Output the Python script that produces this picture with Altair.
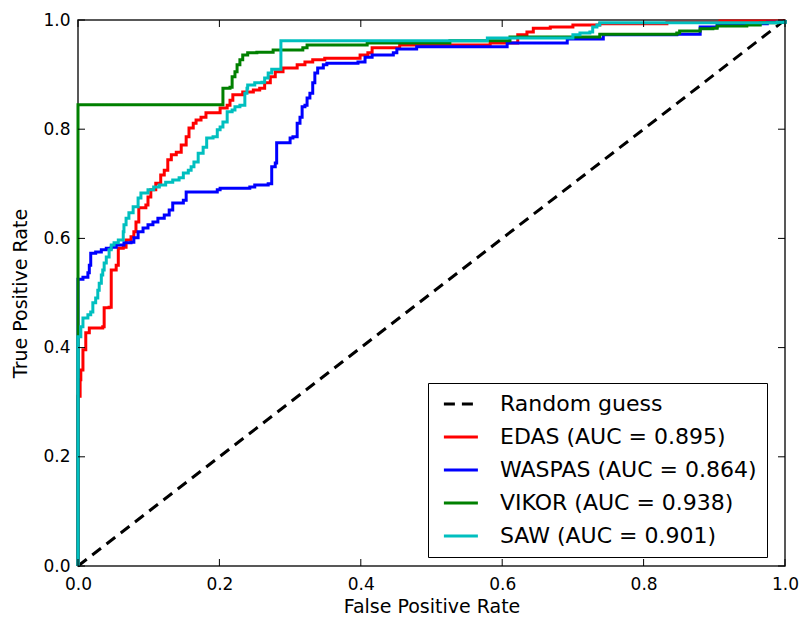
import altair as alt
import pandas as pd

# ---- data ----
names = ["Random guess", "EDAS (AUC = 0.895)", "WASPAS (AUC = 0.864)",
         "VIKOR (AUC = 0.938)", "SAW (AUC = 0.901)"]
colors = ["#000000", "#ff0000", "#0000ff", "#008000", "#00bfbf"]
ticks = [0.0, 0.2, 0.4, 0.6, 0.8, 1.0]

random_fpr = [0.0, 1.0]
random_tpr = [0.0, 1.0]

edas_fpr = [0, 0, .003, .004, .007, .011, .016, .035, .037, .044, .047, .054, .057, .064, .068,
            .075, .079, .082, .086, .096, .099, .103, .110, .117, .122, .127, .132, .139, .146,
            .153, .157, .163, .167, .174, .181, .201, .211, .215, .219, .233, .248, .257, .264,
            .272, .279, .290, .310, .321, .332, .349, .399, .410, .416, .455, .583, .611, .622,
            .635, .644, .668, .700, .738, .833, .908, 1.0]
edas_tpr = [0, .311, .341, .359, .396, .427, .436, .438, .473, .474, .542, .551, .582, .584, .597,
            .603, .612, .630, .656, .661, .676, .689, .701, .716, .725, .744, .753, .758, .771,
            .786, .802, .811, .817, .822, .830, .839, .844, .853, .863, .868, .872, .875, .885,
            .896, .905, .912, .918, .923, .927, .930, .936, .940, .949, .954, .958, .958, .973,
            .978, .985, .987, .991, .993, .996, .998, 1.0]

waspas_fpr = [0, 0, .007, .014, .016, .018, .025, .033, .040, .047, .054, .065, .075, .079, .085,
              .092, .099, .106, .113, .122, .129, .134, .149, .153, .197, .201, .243, .250, .269,
              .274, .279, .281, .296, .300, .304, .310, .314, .317, .321, .324, .328, .332, .335,
              .339, .347, .352, .396, .406, .416, .446, .451, .479, .579, .607, .692, .743, .847,
              .880, .904, .975, 1.0]
waspas_tpr = [0, .525, .529, .537, .551, .573, .575, .579, .582, .584, .588, .592, .593, .601, .612,
              .619, .625, .630, .637, .643, .652, .665, .670, .685, .689, .692, .694, .698, .700,
              .731, .738, .775, .775, .784, .786, .811, .822, .841, .844, .857, .866, .885, .903,
              .912, .918, .921, .923, .932, .936, .940, .947, .951, .951, .958, .965, .973, .974,
              .987, .993, .996, 1.0]

vikor_fpr = [0, 0, .205, .205, .215, .218, .222, .225, .229, .233, .240, .253, .276, .318, .324,
             .409, .526, .611, .738, .847, .851, .880, .898, .904, .946, .965, .989, 1.0]
vikor_tpr = [0, .845, .846, .875, .877, .896, .905, .918, .927, .936, .940, .941, .945, .949, .954,
             .958, .962, .969, .974, .976, .980, .984, .985, .989, .991, .995, .996, 1.0]

saw_fpr = [0, 0, .004, .007, .014, .018, .021, .025, .028, .030, .033, .035, .037, .040, .044,
           .047, .051, .057, .064, .065, .068, .072, .078, .085, .089, .099, .107, .115, .124,
           .134, .143, .149, .156, .160, .164, .170, .177, .182, .191, .197, .201, .205, .211,
           .218, .222, .229, .236, .239, .240, .250, .260, .264, .269, .274, .287, .287, .579,
           .696, .700, .710, .724, .728, .734, .738, .989, 1.0]
saw_tpr = [0, .420, .438, .454, .460, .465, .482, .491, .505, .518, .533, .542, .555, .566, .579,
           .588, .592, .597, .612, .625, .637, .647, .658, .674, .683, .689, .694, .698, .703,
           .707, .711, .720, .725, .731, .740, .756, .767, .784, .786, .799, .804, .813, .832,
           .835, .841, .844, .866, .875, .881, .885, .886, .894, .903, .910, .912, .962, .967,
           .967, .973, .976, .978, .987, .991, .995, .996, 1.0]

# ---- tables ----
def table(name, xs, ys):
    return pd.DataFrame({"series": name, "fpr": xs, "tpr": ys, "i": list(range(len(xs)))})

df_random = table(names[0], random_fpr, random_tpr)
df_roc = pd.concat([
    table(names[1], edas_fpr, edas_tpr),
    table(names[2], waspas_fpr, waspas_tpr),
    table(names[3], vikor_fpr, vikor_tpr),
    table(names[4], saw_fpr, saw_tpr),
], ignore_index=True)
df_ticks = pd.DataFrame({"t": ticks})

W, H = 707, 546
FONT = "DejaVu Sans"
TL = 7

xscale = alt.Scale(domain=[0, 1], nice=False, zero=False)
yscale = alt.Scale(domain=[0, 1], nice=False, zero=False)

legend = alt.Legend(title=None, orient="none", legendX=350, legendY=363,
                    strokeColor="#000000", fillColor="white", padding=10,
                    symbolType="M-0.6,0H3.4", symbolStrokeWidth=3, symbolSize=289,
                    labelFontSize=22, labelFont=FONT, labelColor="#000000", labelLimit=500,
                    labelOffset=40, rowPadding=11, cornerRadius=0)
color_enc = alt.Color("series:N", scale=alt.Scale(domain=names, range=colors), legend=legend)
dash_enc = alt.StrokeDash("series:N",
                          scale=alt.Scale(domain=names, range=[[11, 7], [1, 0], [1, 0], [1, 0], [1, 0]]),
                          legend=legend)

x_axis = alt.Axis(title="False Positive Rate", values=ticks, format=".1f", ticks=False, tickSize=0,
                  domain=False, grid=False, labelFontSize=17, titleFontSize=19, labelPadding=10,
                  titlePadding=5, labelFont=FONT, titleFont=FONT, titleFontWeight="normal",
                  labelColor="#000000", titleColor="#000000", labelFlush=False)
y_axis = alt.Axis(title="True Positive Rate", values=ticks, format=".1f", ticks=False, tickSize=0,
                  domain=False, grid=False, labelFontSize=17, titleFontSize=19, labelPadding=8,
                  titlePadding=12, labelFont=FONT, titleFont=FONT, titleFontWeight="normal",
                  labelColor="#000000", titleColor="#000000", labelFlush=False)

random_line = alt.Chart(df_random).mark_line(strokeWidth=3).encode(
    x=alt.X("fpr:Q", scale=xscale, axis=x_axis),
    y=alt.Y("tpr:Q", scale=yscale, axis=y_axis),
    color=color_enc, strokeDash=dash_enc, order="i:Q")

roc_lines = alt.Chart(df_roc).mark_line(strokeWidth=3, interpolate="step-after").encode(
    x=alt.X("fpr:Q", scale=xscale, axis=x_axis),
    y=alt.Y("tpr:Q", scale=yscale, axis=y_axis),
    color=color_enc, strokeDash=dash_enc, order="i:Q")

tick_base = alt.Chart(df_ticks).mark_rule(color="#000000", strokeWidth=1)
t_bottom = tick_base.encode(x=alt.X("t:Q", scale=xscale, axis=x_axis), y=alt.value(H), y2=alt.value(H - TL))
t_top = tick_base.encode(x=alt.X("t:Q", scale=xscale, axis=x_axis), y=alt.value(0), y2=alt.value(TL))
t_left = tick_base.encode(y=alt.Y("t:Q", scale=yscale, axis=y_axis), x=alt.value(0), x2=alt.value(TL))
t_right = tick_base.encode(y=alt.Y("t:Q", scale=yscale, axis=y_axis), x=alt.value(W), x2=alt.value(W - TL))

chart = alt.layer(random_line, roc_lines, t_bottom, t_top, t_left, t_right).properties(
    width=W, height=H,
    autosize=alt.AutoSizeParams(type="none"),
    padding={"left": 70, "top": 12, "right": 15, "bottom": 50},
    background="white",
).configure_view(stroke="#222222", strokeWidth=1.5)

chart.save("out.html", embed_options={"renderer": "svg", "actions": False})
